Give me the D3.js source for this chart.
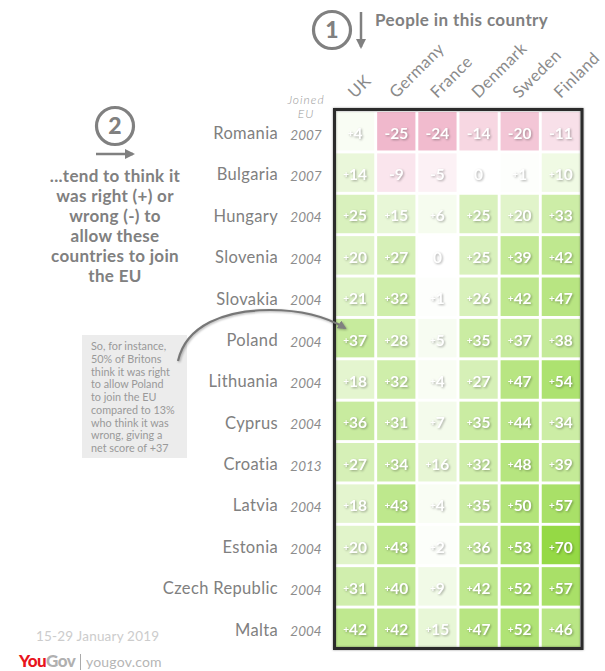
<!DOCTYPE html>
<html>
<head>
<meta charset="utf-8">
<script src="https://cdnjs.cloudflare.com/ajax/libs/d3/7.8.5/d3.min.js"></script>
<style>
  body { margin: 0; background: #fff; }
  svg { display: block; font-family: Lato, sans-serif; }
  .cell-label { filter: drop-shadow(1px 1px 1.2px rgba(0,0,0,.32)); }
</style>
</head>
<body>
<svg id="chart" width="605" height="671"></svg>
<script>
let countries = ['Romania', 'Bulgaria', 'Hungary', 'Slovenia', 'Slovakia', 'Poland', 'Lithuania',
  'Cyprus', 'Croatia', 'Latvia', 'Estonia', 'Czech Republic', 'Malta'];
let joined = ['2007', '2007', '2004', '2004', '2004', '2004', '2004', '2004', '2013', '2004', '2004', '2004', '2004'];
let respondents = ['UK', 'Germany', 'France', 'Denmark', 'Sweden', 'Finland'];

let uk = [4, 14, 25, 20, 21, 37, 18, 36, 27, 18, 20, 31, 42];
let germany = [-25, -9, 15, 27, 32, 28, 32, 31, 34, 43, 43, 40, 42];
let france = [-24, -5, 6, 0, 1, 5, 4, 7, 16, 4, 2, 9, 15];
let denmark = [-14, 0, 25, 25, 26, 35, 27, 35, 32, 35, 36, 42, 47];
let sweden = [-20, 1, 20, 39, 42, 37, 47, 44, 48, 50, 53, 52, 52];
let finland = [-11, 10, 33, 42, 47, 38, 54, 34, 39, 57, 70, 57, 46];

let noteLines = ['So, for instance,', '50% of Britons', 'think it was right', 'to allow Poland',
  'to join the EU', 'compared to 13%', 'who think it was', 'wrong, giving a', 'net score of +37'];
let sideLines = ['...tend to think it', 'was right (+) or', 'wrong (-) to', 'allow these',
  'countries to join', 'the EU'];

let columns = [uk, germany, france, denmark, sweden, finland];
let cells = [];
columns.forEach((col, i) => col.forEach((v, j) => {
  cells.push({who: respondents[i], country: countries[j], value: v});
}));

let svg = d3.select('#chart');
let grey = '#808080';

let x = d3.scaleBand().domain(respondents).range([336, 580]).paddingInner(0.07);
let y = d3.scaleBand().domain(countries).range([112, 647]).paddingInner(0.07);
let color = d3.scaleLinear().domain([-25, 0, 70]).range(['#f0b8cc', '#ffffff', '#95d945']);

// arrowheads
let defs = svg.append('defs');
defs.append('marker').attr('id', 'head')
  .attr('viewBox', '0 0 10 10').attr('refX', 8).attr('refY', 5)
  .attr('markerWidth', 4).attr('markerHeight', 4).attr('orient', 'auto')
  .append('path').attr('d', 'M0,0L10,5L0,10Z').attr('fill', grey);

// heatmap
svg.append('g').selectAll('rect').data(cells).join('rect')
  .attr('x', d => x(d.who))
  .attr('y', d => y(d.country))
  .attr('width', x.bandwidth())
  .attr('height', y.bandwidth())
  .attr('fill', d => color(d.value));

svg.append('rect')
  .attr('x', 334.5).attr('y', 109.5)
  .attr('width', 247.5).attr('height', 539)
  .attr('fill', 'none').attr('stroke', '#2b2b2b').attr('stroke-width', 3)
  .style('filter', 'drop-shadow(0 0 1px rgba(0,0,0,.4))');

let labels = svg.append('g').selectAll('text').data(cells).join('text')
  .attr('class', 'cell-label')
  .attr('x', d => x(d.who) + x.bandwidth() / 2)
  .attr('y', d => y(d.country) + y.bandwidth() / 2 + 7.5)
  .attr('text-anchor', 'middle')
  .attr('fill', '#fff')
  .attr('font-size', 15.5)
  .attr('font-weight', 700);
labels.filter(d => d.value > 0).append('tspan')
  .attr('font-size', 10).attr('dy', -2).text('+');
labels.append('tspan')
  .attr('dy', d => d.value > 0 ? 2 : 0)
  .text(d => d.value);

// country names
let axisCountry = svg.append('g')
  .attr('transform', 'translate(278,2.5)')
  .call(d3.axisLeft(y).tickSize(0).tickPadding(0));
axisCountry.select('.domain').remove();
axisCountry.selectAll('text')
  .attr('font-family', 'Lato, sans-serif')
  .attr('font-size', 16.5).attr('fill', grey).attr('letter-spacing', 0.35);

// year joined
svg.append('g').selectAll('text').data(countries).join('text')
  .attr('x', 306)
  .attr('y', (d, i) => y(d) + y.bandwidth() / 2 + 8.5)
  .attr('text-anchor', 'middle')
  .attr('font-size', 13.5).attr('font-style', 'italic').attr('fill', '#8c8c8c')
  .text((d, i) => joined[i]);

svg.append('g').selectAll('text').data(['Joined', 'EU']).join('text')
  .attr('x', 306).attr('y', (d, i) => 103.5 + i * 14.5)
  .attr('text-anchor', 'middle')
  .attr('font-size', 12).attr('letter-spacing', 1).attr('font-style', 'italic').attr('font-weight', 300).attr('fill', '#999')
  .text(d => d);

// respondent names
svg.append('g').selectAll('text').data(respondents).join('text')
  .attr('transform', d => `translate(${x(d) + 19},99) rotate(-45)`)
  .attr('font-size', 16.5).attr('letter-spacing', 0.5).attr('fill', '#8a8a8a')
  .text(d => d);

// step 1
svg.append('circle').attr('cx', 332).attr('cy', 30).attr('r', 18.5)
  .attr('fill', 'none').attr('stroke', grey).attr('stroke-width', 3.2);
svg.append('text').attr('x', 332).attr('y', 38).attr('text-anchor', 'middle')
  .attr('font-size', 23).attr('font-weight', 900).attr('fill', grey).text('1');
svg.append('line').attr('x1', 361).attr('x2', 361).attr('y1', 12).attr('y2', 47)
  .attr('stroke', grey).attr('stroke-width', 2.5).attr('marker-end', 'url(#head)');
svg.append('text').attr('x', 375).attr('y', 26)
  .attr('font-size', 17).attr('font-weight', 700).attr('letter-spacing', 0.4).attr('fill', grey)
  .text('People in this country');

// step 2
svg.append('circle').attr('cx', 115).attr('cy', 126).attr('r', 18.5)
  .attr('fill', 'none').attr('stroke', grey).attr('stroke-width', 3.2);
svg.append('text').attr('x', 115).attr('y', 134).attr('text-anchor', 'middle')
  .attr('font-size', 23).attr('font-weight', 900).attr('fill', grey).text('2');
svg.append('line').attr('x1', 96).attr('x2', 133).attr('y1', 154).attr('y2', 154)
  .attr('stroke', grey).attr('stroke-width', 2.5).attr('marker-end', 'url(#head)');
svg.append('g').selectAll('text').data(sideLines).join('text')
  .attr('x', 115).attr('y', (d, i) => 182 + i * 20)
  .attr('text-anchor', 'middle')
  .attr('font-size', 17).attr('font-weight', 700).attr('letter-spacing', 0.3).attr('fill', grey)
  .text(d => d);

// worked example note
svg.append('rect').attr('x', 82).attr('y', 335).attr('width', 105).attr('height', 123).attr('fill', '#ececec');
svg.append('g').selectAll('text').data(noteLines).join('text')
  .attr('x', 91).attr('y', (d, i) => 350 + i * 12.75)
  .attr('font-size', 10.8).attr('fill', '#999')
  .text(d => d);
svg.append('path')
  .attr('d', 'M178,361 C186,325 225,310 270,310 C300,310 325,316 345,328')
  .attr('fill', 'none').attr('stroke', '#777').attr('stroke-width', 2.2)
  .attr('marker-end', 'url(#head)')
  .style('filter', 'drop-shadow(1px 1px 1px rgba(0,0,0,.3))');

// footer
svg.append('text').attr('x', 36).attr('y', 641)
  .attr('font-size', 13.5).attr('fill', '#ccc').attr('letter-spacing', 0.2)
  .text('15-29 January 2019');
let logo = svg.append('text').attr('x', 19).attr('y', 667)
  .attr('font-size', 17).attr('font-weight', 900).attr('letter-spacing', -0.5);
logo.append('tspan').attr('fill', '#e8141c').text('You');
logo.append('tspan').attr('fill', '#b0b0b0').text('Gov');
svg.append('line').attr('x1', 80.5).attr('x2', 80.5).attr('y1', 654).attr('y2', 670)
  .attr('stroke', '#aaa');
svg.append('text').attr('x', 86).attr('y', 667)
  .attr('font-size', 14).attr('fill', '#b5b5b5').attr('letter-spacing', 0.2)
  .text('yougov.com');
</script>
</body>
</html>
